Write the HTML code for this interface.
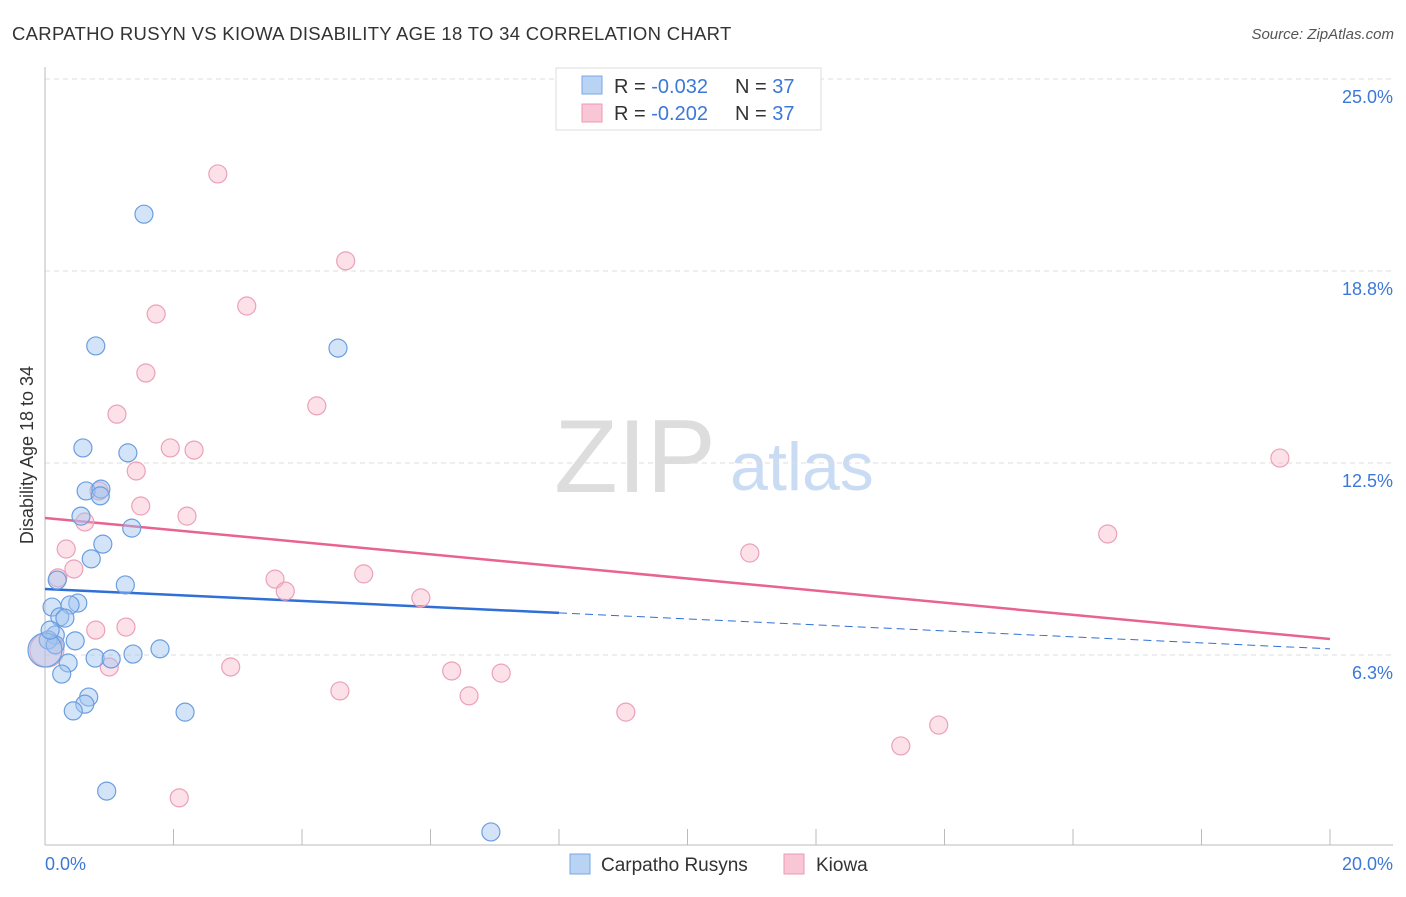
<!DOCTYPE html>
<html><head><meta charset="utf-8"><style>
body{margin:0;background:#fff;font-family:"Liberation Sans",sans-serif}
svg text{font-family:"Liberation Sans",sans-serif}
</style></head><body>
<svg id="c" width="1406" height="892" xmlns="http://www.w3.org/2000/svg">
<text x="12" y="40" font-size="18.5" letter-spacing="0.3" fill="#333">CARPATHO RUSYN VS KIOWA DISABILITY AGE 18 TO 34 CORRELATION CHART</text>
<text x="1394" y="39" font-size="15" fill="#555" font-style="italic" text-anchor="end">Source: ZipAtlas.com</text>
<text x="635" y="492" font-size="104" fill="#ddd" font-family="Liberation Serif" text-anchor="middle">ZIP</text>
<text x="802" y="490" font-size="68" fill="#c9dcf3" text-anchor="middle">atlas</text>
<text transform="translate(33,455) rotate(-90)" font-size="18" fill="#333" text-anchor="middle">Disability Age 18 to 34</text>
<g id="grid"></g><g id="lines"></g><g id="pts"></g>
<g>
<rect x="556" y="68" width="265" height="62" fill="#fff" stroke="#ddd"/>
<rect x="582" y="76" width="20" height="18" fill="#b9d3f5" stroke="#7aa7e3"/>
<text x="614" y="93" font-size="20" fill="#333">R = <tspan fill="#3b78d8">-0.032</tspan></text>
<text x="735" y="93" font-size="20" fill="#333">N = <tspan fill="#3b78d8">37</tspan></text>
<rect x="582" y="104" width="20" height="18" fill="#f9c6d6" stroke="#ec9ab5"/>
<text x="614" y="120" font-size="20" fill="#333">R = <tspan fill="#3b78d8">-0.202</tspan></text>
<text x="735" y="120" font-size="20" fill="#333">N = <tspan fill="#3b78d8">37</tspan></text>
</g>
<g>
<rect x="570" y="854" width="20" height="20" fill="#b9d3f5" stroke="#7aa7e3"/>
<text x="601" y="871" font-size="19" fill="#333">Carpatho Rusyns</text>
<rect x="784" y="854" width="20" height="20" fill="#f9c6d6" stroke="#ec9ab5"/>
<text x="816" y="871" font-size="19" fill="#333">Kiowa</text>
</g>
</svg>
<script>
const yTicks=[6.25,12.5,18.75,25];
const yTickLabels=["6.3%","12.5%","18.8%","25.0%"];
const xTickCount=10;
const blueX=[1.54,.79,4.56,.59,1.29,.64,.87,.86,.56,1.35,.90,.72,1.25,.19,.11,.51,.39,.23,.31,.16,.05,.16,.47,.78,1.03,1.37,1.79,.36,.26,.68,.62,.44,2.18,.96,6.94,0,.08];
const blueY=[20.60,16.31,16.24,12.99,12.83,11.59,11.65,11.43,10.77,10.38,9.86,9.38,8.53,8.69,7.81,7.94,7.88,7.49,7.45,6.90,6.74,6.58,6.71,6.15,6.12,6.28,6.45,5.99,5.63,4.88,4.65,4.43,4.39,1.82,.49,6.41,7.06];
const pinkX=[2.69,4.68,3.14,1.73,1.57,4.23,1.12,1.95,2.32,1.42,.84,1.49,2.21,.62,.33,16.54,19.22,10.97,.20,.45,4.96,3.58,3.74,5.85,.79,1.26,2.89,1.00,6.33,7.10,4.59,6.60,9.04,13.91,13.32,2.09,.03];
const pinkY=[21.91,19.08,17.61,17.35,15.43,14.36,14.09,12.99,12.92,12.24,11.59,11.10,10.77,10.58,9.70,10.19,12.66,9.57,8.76,9.05,8.89,8.72,8.33,8.11,7.06,7.16,5.86,5.86,5.73,5.66,5.08,4.92,4.39,3.97,3.29,1.60,6.41];
const blueTrend=[8.40,6.45], pinkTrend=[10.71,6.77], blueSolidEndX=8.0;
const NS="http://www.w3.org/2000/svg";
const X=v=>45+v/20*1285, Y=v=>847-v/25*768;
function mk(p,t,a){const e=document.createElementNS(NS,t);for(const k in a)e.setAttribute(k,a[k]);document.getElementById(p).appendChild(e);return e;}
yTicks.forEach((t,i)=>{
 const l=mk('grid','line',{x1:45,x2:1393,y1:Y(t),y2:Y(t),stroke:'#ddd','stroke-dasharray':'5,4'});
 
 
 const tx=mk('grid','text',{x:1393,y:Y(t)+24,'font-size':18,fill:'#3b78d8','text-anchor':'end'});tx.textContent=yTickLabels[i];
 
 
});
let a=mk('grid','line',{x1:45,x2:45,y1:67,y2:845,stroke:'#bbb'});


a=mk('grid','line',{x1:45,x2:1393,y1:845,y2:845,stroke:'#bbb'});


for(let i=0;i<=xTickCount;i++){const t=mk('grid','line',{x1:X(i*2),x2:X(i*2),y1:829,y2:845,stroke:'#bbb'});
 
 }
let t1=mk('grid','text',{x:45,y:870,'font-size':18,fill:'#3b78d8'});t1.textContent='0.0%';


t1=mk('grid','text',{x:1393,y:870,'font-size':18,fill:'#3b78d8','text-anchor':'end'});t1.textContent='20.0%';


function pts(xs,ys,fill,stroke,name){xs.forEach((x,i)=>{const big=(x<0.05);const c=mk('pts','circle',{cx:X(x),cy:Y(ys[i]),r:big?17:9,fill:fill,stroke:stroke,'stroke-width':1.2});
 
 });}
pts(pinkX,pinkY,'rgba(248,180,200,0.4)','#eca0ba','kiowa-point');
pts(blueX,blueY,'rgba(160,196,240,0.45)','#6a9ee0','carpatho-rusyn-point');
const bAt=x=>blueTrend[0]+(blueTrend[1]-blueTrend[0])*x/20;
let l=mk('lines','line',{x1:X(0),y1:Y(blueTrend[0]),x2:X(blueSolidEndX),y2:Y(bAt(blueSolidEndX)),stroke:'#2f6fd6','stroke-width':2.5});


l=mk('lines','line',{x1:X(blueSolidEndX),y1:Y(bAt(blueSolidEndX)),x2:X(20),y2:Y(blueTrend[1]),stroke:'#2f6fd6','stroke-width':1,'stroke-dasharray':'8,5'});


l=mk('lines','line',{x1:X(0),y1:Y(pinkTrend[0]),x2:X(20),y2:Y(pinkTrend[1]),stroke:'#e8638f','stroke-width':2.5});


</script>
</body></html>
